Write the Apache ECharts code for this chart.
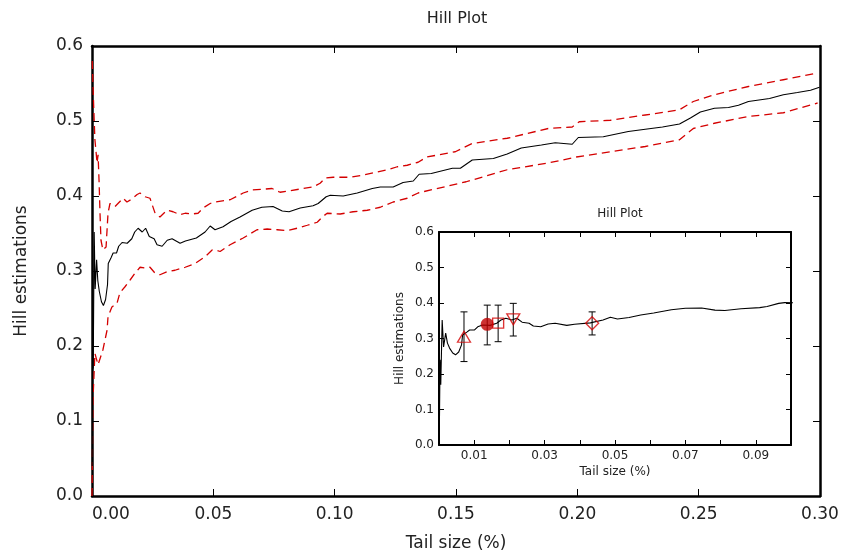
<!DOCTYPE html>
<html>
<head>
<meta charset="utf-8">
<script src="https://cdn.jsdelivr.net/npm/echarts@6/dist/echarts.min.js"></script>
<style>
html,body{margin:0;padding:0;background:#fff;}
#chart{width:844px;height:557px;}
</style>
</head>
<body>
<div id="chart"></div>
<script>
// Hill estimates (black line)
const hillX = [0.0001,0.0003,0.0005,0.0009,0.0013,0.0019,0.0024,0.0030,0.0039,0.0047,0.0056,0.0064,0.0067,0.0079,0.0087,0.0101,0.0110,0.0124,0.0145,0.0164,0.0176,0.0190,0.0207,0.0221,0.0236,0.0256,0.0268,0.0289,0.0310,0.0330,0.0363,0.0385,0.0430,0.0466,0.0487,0.0507,0.0540,0.0573,0.0610,0.0660,0.0700,0.0746,0.0784,0.0812,0.0858,0.0911,0.0932,0.0965,0.0982,0.1035,0.1093,0.1155,0.1188,0.1241,0.1282,0.1324,0.1348,0.1398,0.1485,0.1518,0.1567,0.1654,0.1711,0.1769,0.1852,0.1909,0.1979,0.2004,0.2107,0.2210,0.2280,0.2351,0.2421,0.2466,0.2507,0.2565,0.2623,0.2664,0.2705,0.2792,0.2849,0.2907,0.2961,0.2998];
const hillY = [0.040,0.240,0.170,0.352,0.276,0.315,0.287,0.273,0.259,0.254,0.262,0.282,0.310,0.318,0.324,0.324,0.333,0.338,0.337,0.343,0.352,0.357,0.352,0.357,0.346,0.343,0.335,0.333,0.341,0.343,0.337,0.340,0.344,0.352,0.360,0.355,0.359,0.366,0.372,0.381,0.385,0.386,0.380,0.379,0.384,0.387,0.390,0.399,0.401,0.400,0.404,0.410,0.412,0.412,0.418,0.420,0.429,0.430,0.437,0.437,0.448,0.450,0.456,0.464,0.468,0.471,0.469,0.478,0.479,0.486,0.489,0.492,0.496,0.504,0.512,0.517,0.518,0.521,0.526,0.530,0.535,0.538,0.541,0.545];

// Upper confidence bound (red dashed)
const upperX = [0.0001,0.0007,0.0012,0.0021,0.0025,0.0029,0.0033,0.0037,0.0045,0.0058,0.0066,0.0074,0.0095,0.0107,0.0128,0.0144,0.0165,0.0186,0.0198,0.0219,0.0239,0.0260,0.0280,0.0309,0.0334,0.0363,0.0384,0.0412,0.0437,0.0458,0.0487,0.0507,0.0569,0.0623,0.0660,0.0705,0.0742,0.0775,0.0816,0.0870,0.0911,0.0940,0.0961,0.0994,0.1064,0.1118,0.1175,0.1216,0.1258,0.1299,0.1344,0.1380,0.1497,0.1567,0.1711,0.1880,0.1979,0.2008,0.2136,0.2280,0.2421,0.2478,0.2565,0.2705,0.2849,0.2990];
const upperY = [0.580,0.519,0.475,0.444,0.455,0.421,0.377,0.341,0.328,0.332,0.377,0.390,0.386,0.390,0.397,0.392,0.396,0.402,0.404,0.399,0.397,0.377,0.372,0.381,0.379,0.375,0.377,0.376,0.377,0.384,0.390,0.392,0.395,0.404,0.408,0.409,0.410,0.405,0.407,0.410,0.412,0.417,0.424,0.425,0.425,0.428,0.432,0.435,0.439,0.441,0.445,0.452,0.459,0.470,0.477,0.490,0.492,0.499,0.501,0.508,0.515,0.526,0.535,0.546,0.555,0.564];

// Lower confidence bound (red dashed)
const lowerX = [0.0000,0.0004,0.0012,0.0025,0.0045,0.0062,0.0066,0.0082,0.0103,0.0115,0.0136,0.0157,0.0177,0.0198,0.0219,0.0239,0.0260,0.0280,0.0309,0.0342,0.0384,0.0425,0.0466,0.0495,0.0507,0.0528,0.0569,0.0623,0.0680,0.0722,0.0763,0.0804,0.0845,0.0887,0.0928,0.0949,0.0969,0.1023,0.1076,0.1134,0.1188,0.1241,0.1299,0.1344,0.1369,0.1542,0.1711,0.1880,0.1996,0.2136,0.2280,0.2421,0.2478,0.2565,0.2705,0.2849,0.2990];
const lowerY = [0.000,0.128,0.190,0.175,0.195,0.221,0.239,0.252,0.257,0.271,0.279,0.288,0.297,0.305,0.304,0.305,0.297,0.295,0.299,0.301,0.305,0.310,0.319,0.328,0.328,0.326,0.335,0.344,0.355,0.356,0.355,0.354,0.357,0.361,0.365,0.372,0.377,0.376,0.379,0.381,0.385,0.392,0.397,0.404,0.406,0.419,0.435,0.444,0.452,0.459,0.466,0.475,0.490,0.497,0.506,0.511,0.524];

// Inset markers with error bars
const markX = [0.0071,0.0137,0.0168,0.0211,0.0435];
const markY = [0.305,0.340,0.343,0.354,0.343];
const markLow = [0.235,0.282,0.291,0.307,0.310];
const markHigh = [0.375,0.394,0.394,0.399,0.375];

const titleText = 'Hill Plot';
const xName = 'Tail size (%)';
const yName = 'Hill estimations';

const zip = (xs, ys) => xs.map((x, i) => [x, ys[i]]);
const FONT = 'DejaVu Sans';
const RED = '#d40000';
const TXT = '#222';

const chart = echarts.init(document.getElementById('chart'), null, {renderer: 'canvas'});

function axisCommon(lw, tickLen) {
  return {
    axisLine: {show: true, onZero: false, lineStyle: {color: '#000', width: lw}},
    axisTick: {show: true, inside: true, length: tickLen, lineStyle: {color: '#000', width: 1}},
    splitLine: {show: false}
  };
}

const option = {
  animation: false,
  backgroundColor: '#fff',
  title: [
    {text: titleText, left: 452, top: 6, textAlign: 'center',
     textStyle: {fontFamily: FONT, fontSize: 16, fontWeight: 'normal', color: TXT}},
    {text: titleText, left: 615, top: 203, textAlign: 'center',
     textStyle: {fontFamily: FONT, fontSize: 12, fontWeight: 'normal', color: TXT}}
  ],
  grid: [
    {left: 92, right: 24, top: 46, bottom: 61, show: false},
    {left: 439, right: 53, top: 232, bottom: 112, show: true, backgroundColor: '#fff', borderWidth: 0}
  ],
  xAxis: [
    Object.assign({gridIndex: 0, type: 'value', min: 0, max: 0.3, interval: 0.05, position: 'bottom',
      name: xName, nameLocation: 'middle', nameGap: 39,
      nameTextStyle: {fontFamily: FONT, fontSize: 17, color: TXT},
      axisLabel: {fontFamily: FONT, fontSize: 17, color: TXT, margin: 10, alignMinLabel: 'left',
        formatter: v => v.toFixed(2)}}, axisCommon(2.5, 7)),
    Object.assign({gridIndex: 0, type: 'value', min: 0, max: 0.3, interval: 0.05, position: 'top',
      axisLabel: {show: false}}, axisCommon(2.5, 7)),
    Object.assign({gridIndex: 1, type: 'value', min: 0, max: 0.1, interval: 0.01, position: 'bottom',
      name: xName, nameLocation: 'middle', nameGap: 21,
      nameTextStyle: {fontFamily: FONT, fontSize: 12, color: TXT},
      axisLabel: {fontFamily: FONT, fontSize: 12, color: TXT, margin: 5,
        formatter: v => (Math.round(v * 100) % 2 === 1 ? v.toFixed(2) : '')}}, axisCommon(2, 5)),
    Object.assign({gridIndex: 1, type: 'value', min: 0, max: 0.1, interval: 0.01, position: 'top',
      axisLabel: {show: false}}, axisCommon(2, 5))
  ],
  yAxis: [
    Object.assign({gridIndex: 0, type: 'value', min: 0, max: 0.6, interval: 0.1, position: 'left',
      name: yName, nameLocation: 'middle', nameGap: 62, nameRotate: 90,
      nameTextStyle: {fontFamily: FONT, fontSize: 17, color: TXT},
      axisLabel: {fontFamily: FONT, fontSize: 17, color: TXT, margin: 9,
        formatter: v => v.toFixed(1)}}, axisCommon(2.5, 7)),
    Object.assign({gridIndex: 0, type: 'value', min: 0, max: 0.6, interval: 0.1, position: 'right',
      axisLabel: {show: false}}, axisCommon(2.5, 7)),
    Object.assign({gridIndex: 1, type: 'value', min: 0, max: 0.6, interval: 0.1, position: 'left',
      name: yName, nameLocation: 'middle', nameGap: 33, nameRotate: 90,
      nameTextStyle: {fontFamily: FONT, fontSize: 12, color: TXT},
      axisLabel: {fontFamily: FONT, fontSize: 12, color: TXT, margin: 5,
        formatter: v => v.toFixed(1)}}, axisCommon(2, 5)),
    Object.assign({gridIndex: 1, type: 'value', min: 0, max: 0.6, interval: 0.1, position: 'right',
      axisLabel: {show: false}}, axisCommon(2, 5))
  ],
  series: [
    {type: 'line', xAxisIndex: 0, yAxisIndex: 0, data: zip(upperX, upperY), showSymbol: false,
     lineStyle: {color: RED, width: 1.3, type: [8, 5]}, z: 3},
    {type: 'line', xAxisIndex: 0, yAxisIndex: 0, data: zip(lowerX, lowerY), showSymbol: false,
     lineStyle: {color: RED, width: 1.3, type: [8, 5]}, z: 3},
    {type: 'line', xAxisIndex: 0, yAxisIndex: 0, data: zip(hillX, hillY), showSymbol: false,
     lineStyle: {color: '#000', width: 1.1}, z: 4},
    {type: 'line', xAxisIndex: 2, yAxisIndex: 2, data: zip(hillX, hillY), showSymbol: false,
     lineStyle: {color: '#000', width: 1.1}, z: 4},
    {type: 'custom', xAxisIndex: 2, yAxisIndex: 2, z: 5,
     data: markX.map((x, i) => [x, markLow[i], markHigh[i]]),
     encode: {x: 0, y: [1, 2]},
     renderItem: function (params, api) {
       const x = api.value(0);
       const pLo = api.coord([x, api.value(1)]);
       const pHi = api.coord([x, api.value(2)]);
       const w = 3.5;
       const st = {stroke: '#000', lineWidth: 1};
       return {type: 'group', children: [
         {type: 'line', shape: {x1: pLo[0], y1: pLo[1], x2: pHi[0], y2: pHi[1]}, style: st},
         {type: 'line', shape: {x1: pLo[0] - w, y1: pLo[1], x2: pLo[0] + w, y2: pLo[1]}, style: st},
         {type: 'line', shape: {x1: pHi[0] - w, y1: pHi[1], x2: pHi[0] + w, y2: pHi[1]}, style: st}
       ]};
     }},
    {type: 'scatter', xAxisIndex: 2, yAxisIndex: 2, z: 6,
     data: [
       {value: [markX[0], markY[0]], symbol: 'triangle', symbolSize: [13, 11],
        itemStyle: {color: 'rgba(0,0,0,0)', borderColor: RED, borderWidth: 1.3}},
       {value: [markX[1], markY[1]], symbol: 'circle', symbolSize: 13,
        itemStyle: {color: '#c00000', borderColor: '#c00000', borderWidth: 0}},
       {value: [markX[2], markY[2]], symbol: 'rect', symbolSize: [11, 10],
        itemStyle: {color: 'rgba(0,0,0,0)', borderColor: RED, borderWidth: 1.3}},
       {value: [markX[3], markY[3]], symbol: 'triangle', symbolRotate: 180, symbolSize: [13, 11],
        itemStyle: {color: 'rgba(0,0,0,0)', borderColor: RED, borderWidth: 1.3}},
       {value: [markX[4], markY[4]], symbol: 'diamond', symbolSize: [13, 13],
        itemStyle: {color: 'rgba(0,0,0,0)', borderColor: RED, borderWidth: 1.3}}
     ]}
  ]
};
chart.setOption(option);
</script>
</body>
</html>
